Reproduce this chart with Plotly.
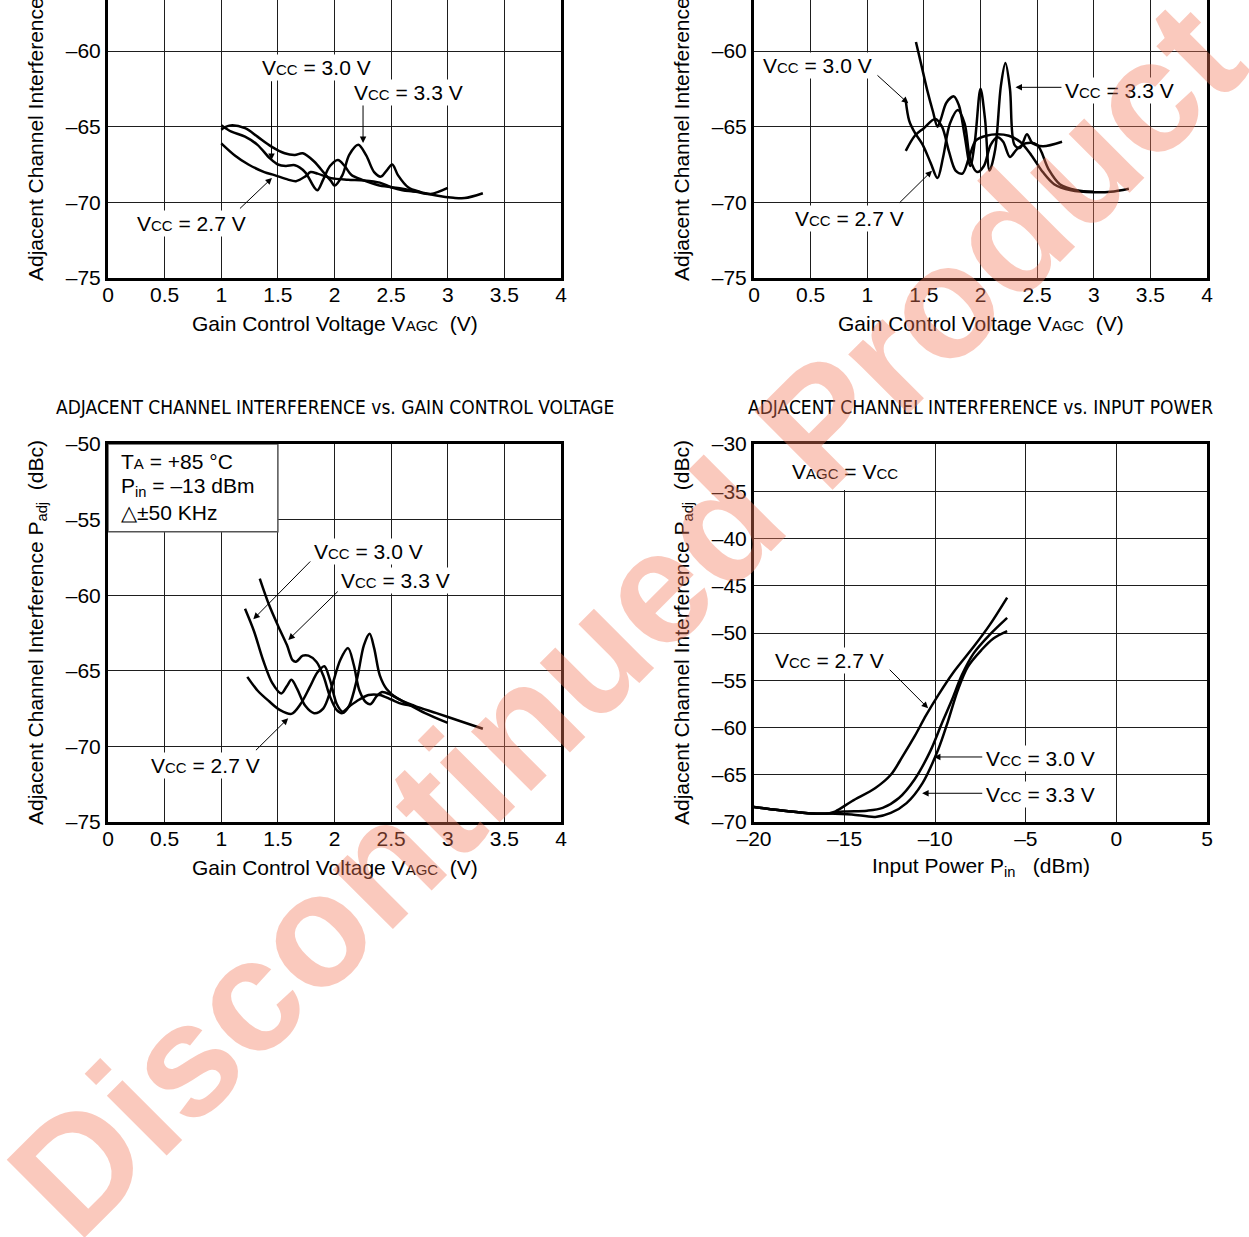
import plotly.graph_objects as go

W, H = 1249, 1237
FONT = "Liberation Sans, Arial, Helvetica, sans-serif"
NARROW = "Liberation Sans Narrow, Arial Narrow, DejaVu Sans Condensed, sans-serif"

# ---------------- data ----------------
# Top-left: ACI vs VAGC
tl_v33 = [1.0, 1.07, 1.21, 1.32, 1.44, 1.56, 1.65, 1.72, 1.82, 1.91, 1.97, 2.0, 2.07, 2.13, 2.21, 2.28, 2.35, 2.41, 2.46, 2.51, 2.56, 2.65, 2.75, 2.9, 3.05, 3.15, 3.31]
tl_d33 = [-65.2, -64.93, -65.1, -65.66, -66.3, -66.76, -66.87, -66.76, -67.3, -68.08, -68.6, -68.9, -68.2, -66.87, -66.2, -66.9, -68.0, -68.3, -67.9, -67.5, -68.2, -69.0, -69.3, -69.55, -69.7, -69.72, -69.4]
tl_v30 = [1.0, 1.09, 1.21, 1.32, 1.43, 1.5, 1.57, 1.65, 1.74, 1.82, 1.85, 1.9, 1.96, 2.03, 2.09, 2.15, 2.24, 2.38, 2.5, 2.6, 2.72, 2.85, 3.0]
tl_d30 = [-64.9, -65.33, -65.66, -66.2, -67.1, -67.5, -67.6, -67.55, -68.0, -69.0, -69.2, -68.5, -67.6, -67.2, -67.6, -68.2, -68.5, -68.85, -69.0, -69.1, -69.3, -69.45, -69.05]
tl_v27 = [1.0, 1.12, 1.24, 1.38, 1.47, 1.59, 1.66, 1.74, 1.79, 1.85, 1.97, 2.12, 2.26, 2.4, 2.5, 2.6, 2.75]
tl_d27 = [-66.1, -66.9, -67.5, -68.0, -68.2, -68.5, -68.6, -68.3, -68.0, -68.1, -68.4, -68.5, -68.55, -68.7, -69.0, -69.2, -69.3]

# Top-right: ACI vs VAGC
tr_v33 = [1.43, 1.48, 1.53, 1.58, 1.62, 1.65, 1.70, 1.765, 1.81, 1.86, 1.91, 1.95, 2.0, 2.04, 2.08, 2.13, 2.18, 2.22, 2.26, 2.30, 2.35, 2.41, 2.46, 2.55, 2.72]
tr_d33 = [-59.4, -61.0, -62.6, -64.0, -65.0, -64.5, -63.4, -63.0, -63.6, -65.6, -67.6, -66.0, -62.5, -64.5, -67.9, -66.5, -62.3, -60.8, -62.5, -66.2, -66.4, -65.5, -66.1, -66.3, -66.0]
tr_v27 = [1.34, 1.42, 1.50, 1.60, 1.66, 1.72, 1.78, 1.84, 1.90, 1.96, 2.05, 2.15, 2.25, 2.35, 2.45, 2.55, 2.65, 2.8, 3.0, 3.15, 3.31]
tr_d27 = [-66.6, -65.6, -65.1, -64.5, -65.0, -66.6, -67.9, -68.1, -67.0, -65.9, -65.6, -65.5, -65.6, -66.0, -66.9, -68.0, -68.8, -69.2, -69.33, -69.3, -69.1]
tr_v30 = [1.34, 1.37, 1.42, 1.49, 1.56, 1.62, 1.67, 1.73, 1.80, 1.86, 1.91, 1.97, 2.03, 2.09, 2.15, 2.20, 2.26, 2.32, 2.40, 2.5, 2.6, 2.7, 2.85, 3.0]
tr_d30 = [-63.3, -64.6, -65.4, -66.2, -67.4, -68.4, -67.0, -64.8, -63.9, -64.8, -67.2, -68.0, -67.6, -66.2, -65.7, -66.0, -67.0, -66.5, -66.1, -66.2, -67.8, -68.8, -69.2, -69.3]

# Bottom-left: ACI vs VAGC, TA = +85 C
bl_v30 = [1.21, 1.29, 1.37, 1.45, 1.53, 1.58, 1.62, 1.67, 1.74, 1.82, 1.9, 1.97, 2.05, 2.12, 2.17, 2.22, 2.28, 2.32, 2.37, 2.42, 2.5, 2.6, 2.8, 3.0]
bl_d30 = [-60.9, -62.4, -64.3, -65.8, -66.5, -66.0, -65.6, -66.2, -67.3, -67.8, -67.5, -66.2, -64.3, -63.5, -64.6, -66.3, -67.1, -67.2, -66.7, -66.4, -66.6, -67.0, -67.8, -68.45]
bl_v33 = [1.34, 1.42, 1.5, 1.58, 1.63, 1.66, 1.72, 1.77, 1.84, 1.9, 1.96, 2.02, 2.07, 2.13, 2.2, 2.26, 2.31, 2.35, 2.4, 2.46, 2.55, 2.7, 2.9, 3.1, 3.31]
bl_d33 = [-58.9, -60.6, -62.0, -63.3, -64.3, -64.4, -64.0, -64.0, -64.4, -65.3, -66.7, -67.6, -67.8, -67.3, -65.5, -63.3, -62.55, -63.5, -65.3, -66.2, -66.8, -67.3, -67.8, -68.3, -68.83]
bl_v27 = [1.23, 1.32, 1.42, 1.52, 1.62, 1.7, 1.78, 1.85, 1.91, 1.96, 2.02, 2.07, 2.14, 2.22, 2.3, 2.4, 2.5, 2.6, 2.72]
bl_d27 = [-65.4, -66.3, -67.0, -67.6, -67.85, -67.2, -66.1, -65.1, -64.7, -65.6, -67.2, -67.7, -67.3, -66.9, -66.6, -66.6, -66.9, -67.2, -67.35]

# Bottom-right: ACI vs input power
br_p27 = [-20, -18.1, -16.8, -15.9, -15.5, -14.6, -13.3, -12.45, -11.8, -11.14, -10.5, -9.84, -8.97, -7.88, -7.0, -6.03]
br_d27 = [-68.4, -68.87, -69.1, -69.1, -68.87, -67.8, -66.4, -65.0, -63.06, -60.95, -58.7, -56.6, -54.1, -51.46, -49.17, -46.25]
br_p30 = [-20, -18.1, -16.8, -15.9, -15.06, -13.76, -12.9, -12.0, -11.14, -10.27, -9.62, -9.08, -8.53, -7.88, -7.0, -6.03]
br_d30 = [-68.4, -68.87, -69.1, -69.1, -68.9, -68.8, -68.5, -67.46, -65.5, -62.5, -59.5, -57.1, -54.45, -52.16, -50.2, -48.4]
br_p33 = [-20, -18.1, -16.8, -15.9, -14.6, -13.3, -12.45, -11.58, -10.7, -9.84, -9.3, -8.75, -8.2, -7.45, -6.79, -6.03]
br_d33 = [-68.4, -68.87, -69.1, -69.1, -69.2, -69.46, -69.04, -68.0, -65.88, -62.36, -59.37, -56.03, -53.57, -51.8, -50.58, -49.8]

vagc_ticks = [0, 0.5, 1, 1.5, 2, 2.5, 3, 3.5, 4]
vagc_text = ["0", "0.5", "1", "1.5", "2", "2.5", "3", "3.5", "4"]
pin_ticks = [-20, -15, -10, -5, 0, 5]
pin_text = ["\u201320", "\u201315", "\u201310", "\u20135", "0", "5"]
aci_top_ticks = [-75, -70, -65, -60]
aci_bl_ticks = [-75, -70, -65, -60, -55, -50]
aci_br_ticks = [-70, -65, -60, -55, -50, -45, -40, -35, -30]

# ---------------- figure ----------------
fig = go.Figure()
LINE = dict(color="black", width=2.5, shape="spline", smoothing=0.9)


def curve(x, y, n):
    fig.add_trace(go.Scatter(x=x, y=y, mode="lines", line=LINE, xaxis="x" + n, yaxis="y" + n,
                             showlegend=False, hoverinfo="skip"))


curve(tl_v33, tl_d33, "")
curve(tl_v30, tl_d30, "")
curve(tl_v27, tl_d27, "")
curve(tr_v33, tr_d33, "2")
curve(tr_v30, tr_d30, "2")
curve(tr_v27, tr_d27, "2")
curve(bl_v30, bl_d30, "3")
curve(bl_v33, bl_d33, "3")
curve(bl_v27, bl_d27, "3")
curve(br_p27, br_d27, "4")
curve(br_p30, br_d30, "4")
curve(br_p33, br_d33, "4")

TICKF = dict(family=FONT, size=21, color="black")
dxl = [108 / W, 561 / W]
dxr = [754 / W, 1207 / W]
dyt = [1 - 278 / H, 1.0]
dyb = [1 - 822 / H, 1 - 444 / H]
top_ymax = -60 + 51 / (227 / 15)


def xax(dom, anchor, rng, tv, tt, mirror):
    return dict(domain=dom, anchor=anchor, range=rng, tickvals=tv, ticktext=tt, showgrid=True,
                gridcolor="#1e1e1e", gridwidth=1, zeroline=False, showline=True, linecolor="black",
                linewidth=3, mirror=mirror, ticks="", tickfont=TICKF, fixedrange=True,
                automargin=False, ticklabelstandoff=-4)


def yax(dom, anchor, rng, tv):
    return dict(domain=dom, anchor=anchor, range=rng, tickvals=tv,
                ticktext=["\u2013" + str(abs(v)) for v in tv], showgrid=True, gridcolor="#1e1e1e",
                gridwidth=1, zeroline=False, showline=True, linecolor="black", linewidth=3,
                mirror=True, ticks="", tickfont=TICKF, fixedrange=True, automargin=False)


fig.update_layout(
    width=W, height=H, margin=dict(l=0, r=0, t=0, b=0, pad=0, autoexpand=False), autosize=False,
    paper_bgcolor="white", plot_bgcolor="white", showlegend=False,
    xaxis=xax(dxl, "y", [0, 4], vagc_ticks, vagc_text, False),
    yaxis=yax(dyt, "x", [-75, top_ymax], aci_top_ticks),
    xaxis2=xax(dxr, "y2", [0, 4], vagc_ticks, vagc_text, False),
    yaxis2=yax(dyt, "x2", [-75, top_ymax], aci_top_ticks),
    xaxis3=xax(dxl, "y3", [0, 4], vagc_ticks, vagc_text, True),
    yaxis3=yax(dyb, "x3", [-75, -50], aci_bl_ticks),
    xaxis4=xax(dxr, "y4", [-20, 5], pin_ticks, pin_text, True),
    yaxis4=yax(dyb, "x4", [-70, -30], aci_br_ticks),
)

# white boxes hiding grid behind condition texts
fig.add_shape(type="rect", xref="x3", yref="y3", x0=0, x1=1.5, y0=-55.8, y1=-50,
              fillcolor="white", line=dict(color="#555", width=1.5), layer="between")
fig.add_shape(type="rect", xref="x4", yref="y4", x0=-20, x1=-14.9, y0=-34.88, y1=-30,
              fillcolor="white", line=dict(width=0), layer="between")

SM = "font-size:15px"


def vcc(val):
    return f"V<span style='{SM}'>CC</span> = {val} V"


def label(text, x, y, n, anchor="center"):
    fig.add_annotation(text=text, x=x, y=y, xref="x" + n, yref="y" + n, showarrow=False,
                       xanchor=anchor, yanchor="middle", bgcolor="white", borderpad=1,
                       font=dict(family=FONT, size=21, color="black"))


def arrow(x0, y0, x1, y1, n):
    fig.add_annotation(text="", x=x1, y=y1, ax=x0, ay=y0, xref="x" + n, yref="y" + n,
                       axref="x" + n, ayref="y" + n, showarrow=True, arrowhead=2,
                       arrowsize=1.3, arrowwidth=1, arrowcolor="black", standoff=0)


def ptext(text, px, py, size=21, family=FONT, angle=0):
    fig.add_annotation(text=text, x=px / W, y=1 - py / H, xref="paper", yref="paper",
                       showarrow=False, xanchor="center", yanchor="middle", textangle=angle,
                       font=dict(family=family, size=size, color="black"))


# top-left labels
label(vcc("3.0"), 1.837, -61.12, "")
label(vcc("3.3"), 2.649, -62.71, "")
label(vcc("2.7"), 0.733, -71.43, "")
arrow(1.444, -61.9, 1.444, -67.2, "")
arrow(2.252, -63.5, 2.252, -66.08, "")
arrow(1.152, -70.5, 1.448, -68.39, "")

# top-right labels
label(vcc("3.0"), 0.565, -60.99, "2")
label(vcc("3.3"), 2.73, -62.58, "2", "left")
label(vcc("2.7"), 0.839, -71.04, "2")
arrow(1.077, -61.52, 1.362, -63.46, "2")
arrow(2.728, -62.4, 2.309, -62.4, "2")
arrow(1.274, -70.11, 1.572, -67.91, "2")

# bottom-left labels
label(vcc("3.0"), 2.296, -57.08, "3")
label(vcc("3.3"), 2.543, -59.06, "3")
label(vcc("2.7"), 0.865, -71.23, "3")
arrow(1.799, -57.67, 1.283, -61.59, "3")
arrow(2.042, -59.66, 1.592, -62.96, "3")
arrow(1.293, -70.35, 1.591, -68.14, "3")
for txt, yy in [(f"T<span style='{SM}'>A</span> = +85 \u00b0C", -51.19),
                ("P<sub>in</sub> = \u201313 dBm", -52.84),
                ("\u25b3\u00b150 KHz", -54.56)]:
    fig.add_annotation(text=txt, x=0.1, y=yy, xref="x3", yref="y3", showarrow=False,
                       xanchor="left", yanchor="middle", font=dict(family=FONT, size=21, color="black"))

# bottom-right labels
fig.add_annotation(text=f"V<span style='{SM}'>AGC</span> = V<span style='{SM}'>CC</span>",
                   x=-14.98, y=-32.86, xref="x4", yref="y4", showarrow=False,
                   xanchor="center", yanchor="middle",
                   font=dict(family=FONT, size=21, color="black"))
label(vcc("2.7"), -15.81, -52.96, "4")
label(vcc("3.0"), -7.32, -63.33, "4", "left")
label(vcc("3.3"), -7.32, -67.14, "4", "left")
arrow(-12.59, -53.73, -10.39, -57.97, "4")
arrow(-7.32, -63.12, -10.07, -63.12, "4")
arrow(-7.32, -66.96, -10.72, -66.96, "4")

# axis titles
xt = f"Gain Control Voltage V<span style='{SM}'>AGC</span>  (V)"
yt = "Adjacent Channel Interference P<sub>adj</sub>  (dBc)"
for px, py, t in [(334.5, 323, xt), (980.5, 323, xt), (334.5, 867, xt),
                  (980.5, 867, "Input Power P<sub>in</sub>   (dBm)")]:
    ptext(t, px, py)
for px, py in [(37, 89), (683, 89), (37, 633), (683, 633)]:
    ptext(yt, px, py, angle=-90)

# chart titles
ptext("ADJACENT CHANNEL INTERFERENCE vs. GAIN CONTROL VOLTAGE", 334.5, 407, size=19, family=NARROW)
ptext("ADJACENT CHANNEL INTERFERENCE vs. INPUT POWER", 980.5, 407, size=19, family=NARROW)

# watermark
fig.add_annotation(text="<b>Discontinued Product</b>", x=0.5004, y=0.5004, xref="paper", yref="paper",
                   xanchor="center", yanchor="middle", showarrow=False, textangle=-45,
                   font=dict(family=FONT, size=160, color="rgba(243,120,90,0.4)"))

fig.write_html("out.html", config={"displayModeBar": False},
               post_script="document.body.style.margin='0';")
